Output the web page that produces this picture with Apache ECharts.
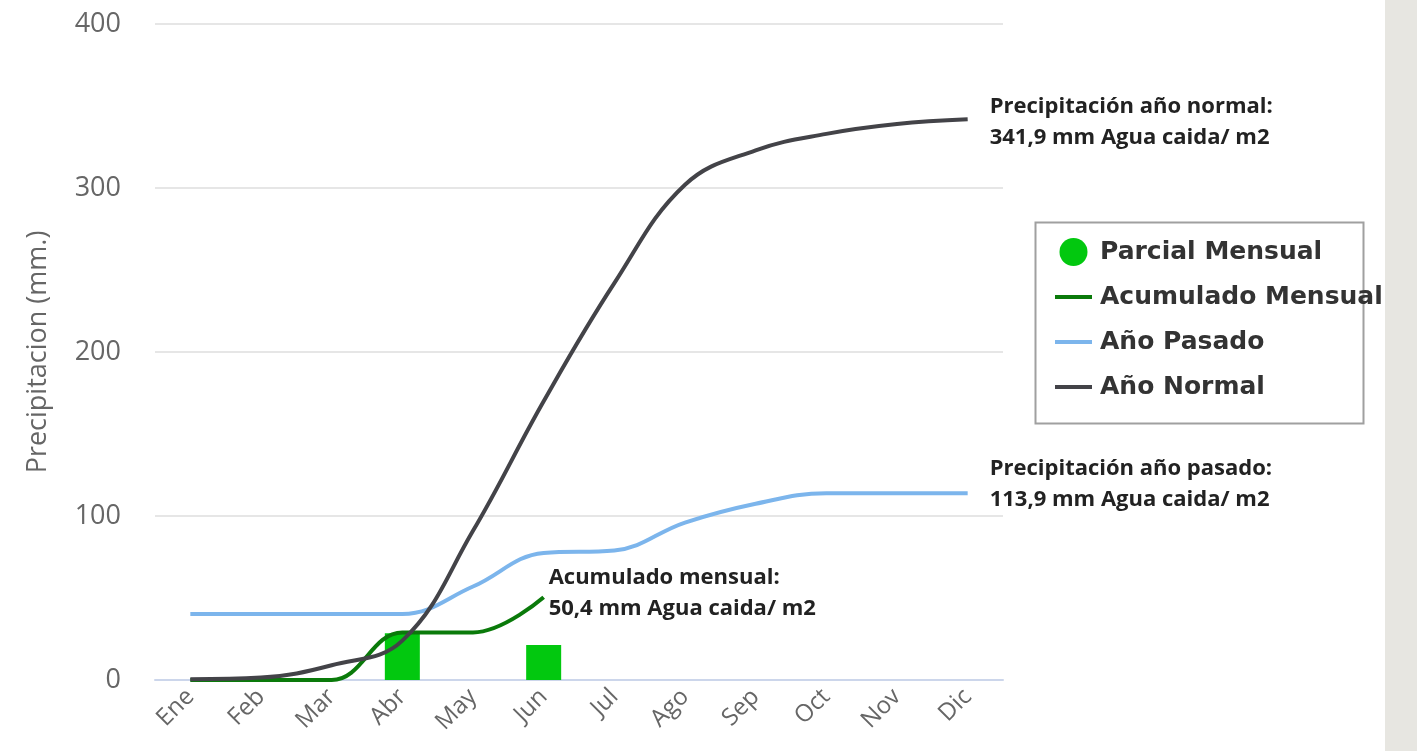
<!DOCTYPE html>
<html>
<head>
<meta charset="utf-8">
<script src="https://cdn.jsdelivr.net/npm/echarts@6/dist/echarts.min.js"></script>
<style>
  html, body { margin: 0; padding: 0; background: #fff; }
  #chart { width: 1417px; height: 751px; }
</style>
</head>
<body>
<div id="chart"></div>
<script>
// meses
const months = ['Ene', 'Feb', 'Mar', 'Abr', 'May', 'Jun', 'Jul', 'Ago', 'Sep', 'Oct', 'Nov', 'Dic']

// lluvia caida en el mes (solo meses con registro)
const parcialMensual = [null, null, null, 28.5, null, 21.4]
// acumulado del año en curso
const acumuladoMensual = [0, 0, 0, 29, 29, 50.4]
const anoPasado = [40.3, 40.3, 40.3, 40.3, 57, 77.5, 79, 96, 107.5, 113.9, 113.9, 113.9]
const anoNormal = [0.5, 1.5, 9, 24, 91, 170, 242, 302, 323, 333, 339, 341.9]

const yTicks = { min: 0, max: 400, interval: 100 }

const labelNormal = 'Precipitación año normal:\n341,9 mm Agua caida/ m2'
const labelPasado = 'Precipitación año pasado:\n113,9 mm Agua caida/ m2'
const labelAcumulado = 'Acumulado mensual:\n50,4 mm Agua caida/ m2'

const lineIcon = 'path://M0,0 L37,0 L37,4 L0,4 Z'

function endLabel(text, distance, offset) {
  return {
    show: true,
    formatter: () => text,
    distance: distance,
    offset: offset || [0, 0],
    align: 'left',
    color: '#222',
    fontFamily: 'Open Sans',
    fontWeight: 'bold',
    fontSize: 22,
    lineHeight: 31
  }
}

const myChart = echarts.init(document.getElementById('chart'))
myChart.setOption({
  backgroundColor: '#fff',
  animation: false,
  grid: {
    left: 155,
    right: 414,
    top: 24,
    bottom: 71
  },
  legend: {
    orient: 'vertical',
    left: 1050,
    top: 233,
    itemWidth: 37,
    itemHeight: 28,
    itemGap: 17,
    textStyle: {
      color: '#333',
      fontFamily: 'DejaVu Sans',
      fontWeight: 'bold',
      fontSize: 25,
      lineHeight: 28,
      padding: [0, 0, 0, 3]
    },
    data: [
      { name: 'Parcial Mensual', icon: 'circle' },
      { name: 'Acumulado Mensual', icon: lineIcon },
      { name: 'Año Pasado', icon: lineIcon },
      { name: 'Año Normal', icon: lineIcon }
    ]
  },
  graphic: [
    {
      type: 'rect',
      left: 1033,
      top: 220,
      shape: { width: 328, height: 201 },
      style: { fill: 'none', stroke: '#a0a0a0', lineWidth: 2 },
      z: 1
    },
    {
      // franja gris lateral
      type: 'rect',
      left: 1385,
      top: 0,
      shape: { width: 32, height: 751 },
      style: { fill: '#e7e6e1' },
      z: 100
    }
  ],
  xAxis: {
    type: 'category',
    data: months,
    boundaryGap: true,
    axisLine: { lineStyle: { color: '#ccd6eb', width: 2 } },
    axisTick: { show: false },
    axisLabel: {
      rotate: 45,
      color: '#666',
      fontFamily: 'Open Sans',
      fontSize: 24,
      margin: 13
    }
  },
  yAxis: {
    type: 'value',
    min: yTicks.min,
    max: yTicks.max,
    interval: yTicks.interval,
    name: 'Precipitacion (mm.)',
    nameLocation: 'middle',
    nameRotate: 90,
    nameGap: 103,
    nameTextStyle: {
      color: '#666',
      fontFamily: 'Open Sans',
      fontSize: 27
    },
    axisLine: { show: false },
    axisTick: { show: false },
    axisLabel: {
      color: '#666',
      fontFamily: 'Open Sans',
      fontSize: 27,
      margin: 34
    },
    splitLine: { lineStyle: { color: '#e6e6e6', width: 2 } }
  },
  series: [
    {
      name: 'Parcial Mensual',
      type: 'bar',
      barWidth: 35,
      itemStyle: { color: '#02c80f' },
      data: parcialMensual
    },
    {
      name: 'Acumulado Mensual',
      type: 'line',
      smooth: 0.4,
      symbol: 'none',
      color: '#0a7a0a',
      lineStyle: { width: 4, color: '#0a7a0a' },
      endLabel: endLabel(labelAcumulado, 5, [0, -4]),
      data: acumuladoMensual
    },
    {
      name: 'Año Pasado',
      type: 'line',
      smooth: 0.4,
      symbol: 'none',
      color: '#7cb5ec',
      lineStyle: { width: 4, color: '#7cb5ec' },
      endLabel: endLabel(labelPasado, 22, [0, -9]),
      data: anoPasado
    },
    {
      name: 'Año Normal',
      type: 'line',
      smooth: 0.4,
      symbol: 'none',
      color: '#434348',
      lineStyle: { width: 4, color: '#434348' },
      endLabel: endLabel(labelNormal, 22, [0, 3]),
      data: anoNormal
    }
  ]
})
window.addEventListener('resize', () => {
  myChart.resize()
})
</script>
</body>
</html>
